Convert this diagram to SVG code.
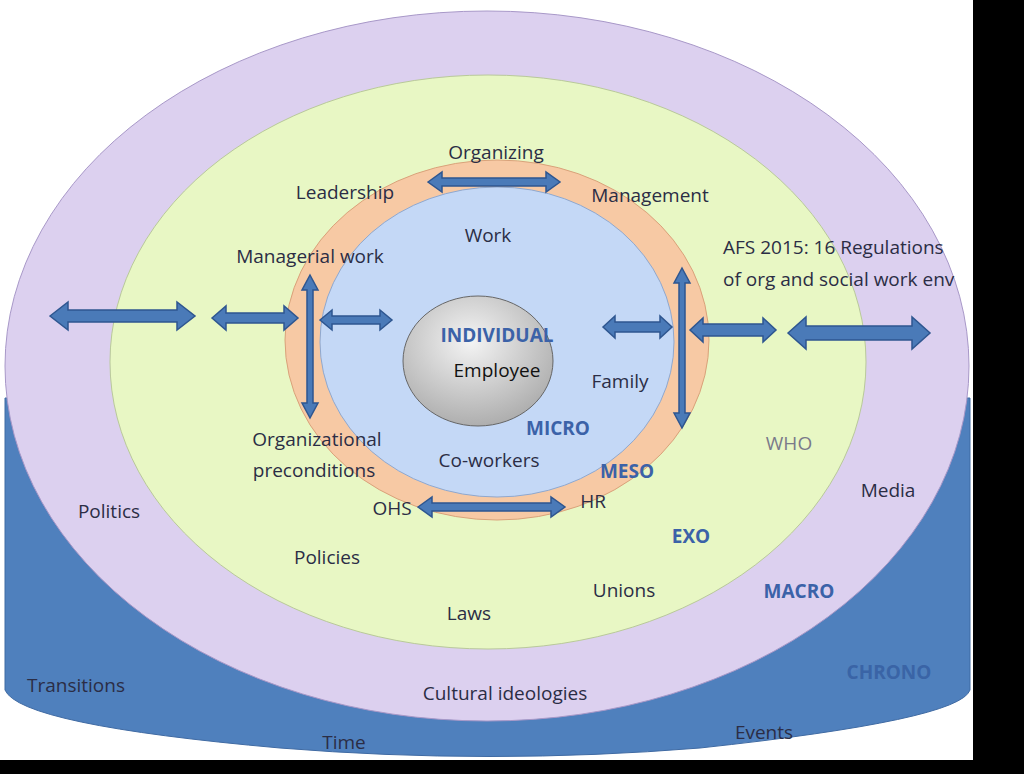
<svg xmlns="http://www.w3.org/2000/svg" width="1024" height="774" viewBox="0 0 1024 774">
<style>
text{font-family:"Open Sans","Liberation Sans",sans-serif;font-size:19px;fill:#2b2d45}
.b{font-weight:bold;fill:#3b62a8}
.arr{fill:#4a7ab8;stroke:#2e5690;stroke-width:1.5}
</style>
<defs>
<radialGradient id="gg" cx="0.45" cy="0.35" r="0.7"><stop offset="0" stop-color="#f4f4f4"/><stop offset="1" stop-color="#a9a9a9"/></radialGradient>
</defs>
<rect width="1024" height="774" fill="#fff"/>
<rect x="973" y="0" width="51" height="774" fill="#000"/>
<rect x="0" y="760" width="1024" height="14" fill="#000"/>
<g id="chrono"><path d="M5,398 H970 V690 Q960,720 700,748 Q490,765 280,748 Q20,725 5,690 Z" fill="#4f80bd" stroke="#3f6aa3"/></g>
<g id="macro"><ellipse cx="487" cy="366" rx="482" ry="355" fill="#dcd0ef" stroke="#a898c8"/></g>
<g id="exo"><ellipse cx="488" cy="362" rx="378" ry="287" fill="#e8f7c4" stroke="#b9c99a"/></g>
<g id="meso"><ellipse cx="497" cy="340" rx="212" ry="180" fill="#f7c9a4" stroke="#d9a27a"/></g>
<g id="micro"><ellipse cx="497" cy="342" rx="177" ry="155" fill="#c4d8f6" stroke="#8fa8cf"/></g>
<g id="individual"><ellipse cx="478" cy="361" rx="75" ry="65" fill="url(#gg)" stroke="#666"/>
<text x="497" y="342" class="b" text-anchor="middle">INDIVIDUAL</text>
<text x="497" y="377" text-anchor="middle" style="fill:#111">Employee</text></g>
<g id="connectors">
<path class="arr" d="M50,316 L68,302 V310 H177 V302 L195,316 L177,330 V322 H68 V330 Z"/>
<path class="arr" d="M212,318 L226,306 V313 H284 V306 L298,318 L284,330 V323 H226 V330 Z"/>
<path class="arr" d="M320,320 L332,310 V316 H380 V310 L392,320 L380,330 V324 H332 V330 Z"/>
<path class="arr" d="M428,182 L442,172 V178 H546 V172 L560,182 L546,192 V186 H442 V192 Z"/>
<path class="arr" d="M603,327 L615,316 V322 H660 V316 L672,327 L660,338 V332 H615 V338 Z"/>
<path class="arr" d="M690,330 L703,318 V324 H763 V318 L776,330 L763,342 V336 H703 V342 Z"/>
<path class="arr" d="M788,333 L806,317 V326 H912 V317 L930,333 L912,349 V340 H806 V349 Z"/>
<path class="arr" d="M418,507 L432,497 V503 H551 V497 L565,507 L551,517 V511 H432 V517 Z"/>
<path class="arr" d="M310,275 L318,290 H313 V403 H318 L310,418 L302,403 H307 V290 H302 Z"/>
<path class="arr" d="M682,268 L690,283 H685 V413 H690 L682,428 L674,413 H679 V283 H674 Z"/>
</g>
<g id="labels">
<text x="496" y="159" text-anchor="middle">Organizing</text>
<text x="345" y="199" text-anchor="middle">Leadership</text>
<text x="650" y="202" text-anchor="middle">Management</text>
<text x="488" y="242" text-anchor="middle">Work</text>
<text x="310" y="263" text-anchor="middle">Managerial work</text>
<text x="723" y="254">AFS 2015: 16 Regulations</text>
<text x="723" y="286">of org and social work env</text>
<text x="620" y="388" text-anchor="middle">Family</text>
<text x="317" y="446" text-anchor="middle">Organizational</text>
<text x="314" y="477" text-anchor="middle">preconditions</text>
<text x="489" y="467" text-anchor="middle">Co-workers</text>
<text x="558" y="435" class="b" text-anchor="middle">MICRO</text>
<text x="627" y="478" class="b" text-anchor="middle">MESO</text>
<text x="789" y="450" text-anchor="middle" style="fill:#7a7a8a">WHO</text>
<text x="392" y="515" text-anchor="middle">OHS</text>
<text x="593" y="508" text-anchor="middle">HR</text>
<text x="888" y="497" text-anchor="middle">Media</text>
<text x="109" y="518" text-anchor="middle">Politics</text>
<text x="327" y="564" text-anchor="middle">Policies</text>
<text x="691" y="543" class="b" text-anchor="middle">EXO</text>
<text x="624" y="597" text-anchor="middle">Unions</text>
<text x="799" y="598" class="b" text-anchor="middle">MACRO</text>
<text x="469" y="620" text-anchor="middle">Laws</text>
<text x="889" y="679" class="b" text-anchor="middle" style="fill:#3a64a6">CHRONO</text>
<text x="76" y="692" text-anchor="middle">Transitions</text>
<text x="505" y="700" text-anchor="middle">Cultural ideologies</text>
<text x="344" y="749" text-anchor="middle">Time</text>
<text x="764" y="739" text-anchor="middle">Events</text>
</g>
</svg>
